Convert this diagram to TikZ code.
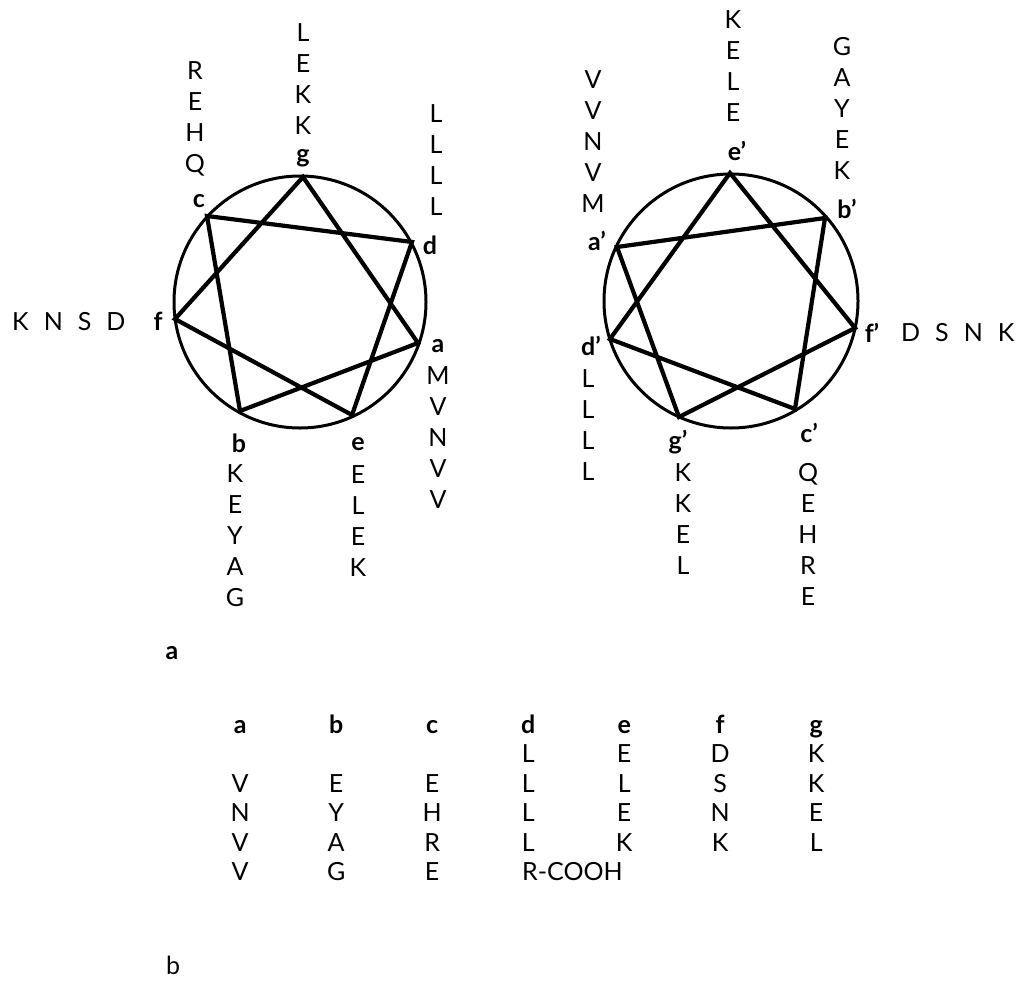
\documentclass[tikz,border=0pt]{standalone}
\usepackage{fontspec}
\setmainfont{Lato}
\usepackage{array}
\usetikzlibrary{positioning}

\begin{document}
\begin{tikzpicture}[x=1pt, y=-1pt,
  rim/.style={line width=3pt},
  helix/.style={line width=4.2pt, line join=miter},
  res/.style={inner sep=0pt, align=center, font=\fontsize{25}{31}\selectfont},
  hept/.style={inner sep=0pt, font=\fontsize{25}{28}\selectfont\bfseries},
]
  \useasboundingbox (0,0) rectangle (1020,980);

  % left wheel
  \coordinate (lc0) at (300,302);
  \coordinate (lg) at (303,177);
  \coordinate (ld) at (412,242);
  \coordinate (la) at (418,343);
  \coordinate (le) at (352,415);
  \coordinate (lb) at (240,411);
  \coordinate (lf) at (175,319);
  \coordinate (lcc) at (207,216);
  \draw[rim] (lc0) circle[radius=126];
  \draw[helix] (la) -- (lb) -- (lcc) -- (ld) -- (le) -- (lf) -- (lg) -- cycle;

  \node[hept] (hg) at (303,158) {g};
  \node[hept] (hc) at (199,201) {c};
  \node[hept] (hd) at (430,245) {d};
  \node[hept] (hf) at (158,321) {f};
  \node[hept] (ha) at (438,346) {a};
  \node[hept] (hb) at (239,443) {b};
  \node[hept] (he) at (358,444) {e};

  \node[res] (rg) at (303,79) {L\\E\\K\\K};
  \node[res] (rc) at (195,119) {R\\E\\H\\Q};
  \node[res] (rd) at (436,160) {L\\L\\L\\L};
  \node[res, anchor=west] (rf) at (12,322) {K\hspace{15pt}N\hspace{15pt}S\hspace{15pt}D};
  \node[res] (ra) at (438,438) {M\\V\\N\\V\\V};
  \node[res] (rb) at (235,536) {K\\E\\Y\\A\\G};
  \node[res] (re) at (358,521) {E\\L\\E\\K};

  % right wheel
  \coordinate (rc0) at (731,301);
  \coordinate (re') at (730,173);
  \coordinate (rb') at (825,218);
  \coordinate (rf') at (855,328);
  \coordinate (rc') at (795,409);
  \coordinate (rg') at (679,417);
  \coordinate (rd') at (610,339);
  \coordinate (ra') at (617,247);
  \draw[rim] (rc0) circle[radius=127];
  \draw[helix] (ra') -- (rb') -- (rc') -- (rd') -- (re') -- (rf') -- (rg') -- cycle;

  \node[hept] (he') at (737,151) {e'};
  \node[hept] (hb') at (847,209) {b'};
  \node[hept] (ha') at (597,241) {a'};
  \node[hept] (hf') at (872,333) {f'};
  \node[hept] (hd') at (591,346) {d'};
  \node[hept] (hg') at (678,442) {g'};
  \node[hept] (hc') at (809,433) {c'};

  \node[res] (se') at (733,66) {K\\E\\L\\E};
  \node[res] (sb') at (842,108) {G\\A\\Y\\E\\K};
  \node[res] (sa') at (593,142) {V\\V\\N\\V\\M};
  \node[res, anchor=west] (sf') at (901,333) {D\hspace{15pt}S\hspace{15pt}N\hspace{15pt}K};
  \node[res] (sd') at (588,425) {L\\L\\L\\L};
  \node[res] (sg') at (683,519) {K\\K\\E\\L};
  \node[res] (sc') at (808,534) {Q\\E\\H\\R\\E};

  \node[hept] (pa) at (172,653) {a};

  % heptad table
  \node[inner sep=0pt, anchor=north west, font=\fontsize{25}{29.5}\selectfont] (tbl) at (192,712.35) {%
    \setlength{\tabcolsep}{0pt}%
    \begin{tabular}{*{7}{>{\centering\arraybackslash}p{96pt}}}
      \textbf{a} & \textbf{b} & \textbf{c} & \textbf{d} & \textbf{e} & \textbf{f} & \textbf{g}\\
        &   &   & L & E & D & K\\
      V & E & E & L & L & S & K\\
      N & Y & H & L & E & N & E\\
      V & A & R & L & K & K & L\\
      V & G & E & \makebox[0pt][l]{\kern-6pt R-COOH} & & & \\
    \end{tabular}};

  \node[inner sep=0pt, font=\fontsize{25}{28}\selectfont] (pb) at (173,965) {b};
\end{tikzpicture}
\end{document}
